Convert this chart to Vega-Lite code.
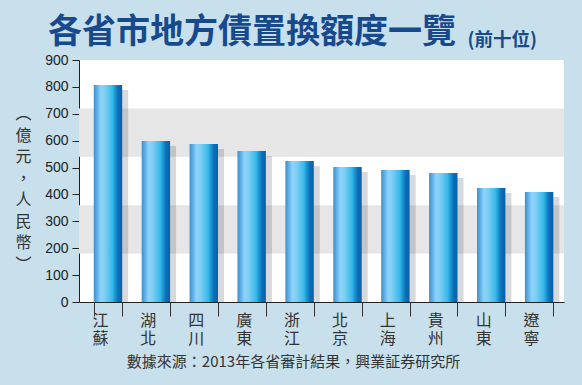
{
  "$schema": "https://vega.github.io/schema/vega-lite/v6.json",
  "width": 485,
  "height": 242,
  "autosize": {"type": "none"},
  "padding": {"left": 79, "top": 60, "right": 18, "bottom": 83},
  "background": "#c8e0ec",
  "config": {"view": {"fill": "white", "stroke": null}},
  "title": {
    "text": "各省市地方債置換額度一覽",
    "anchor": "start",
    "frame": "group",
    "dx": -31,
    "offset": -20,
    "font": "Noto Sans CJK TC",
    "fontSize": 34,
    "fontWeight": "bold",
    "color": "#174a8c"
  },
  "resolve": {"axis": {"y": "independent"}},
  "data": {
    "values": [
      {"p": "江蘇", "v": 807},
      {"p": "湖北", "v": 599},
      {"p": "四川", "v": 588},
      {"p": "廣東", "v": 562},
      {"p": "浙江", "v": 524},
      {"p": "北京", "v": 502},
      {"p": "上海", "v": 491},
      {"p": "貴州", "v": 480},
      {"p": "山東", "v": 424},
      {"p": "遼寧", "v": 409}
    ]
  },
  "layer": [
    {
      "data": {"values": [{"lo": 180, "hi": 360}, {"lo": 540, "hi": 720}]},
      "mark": {"type": "rect", "color": "#e6e6e6"},
      "encoding": {
        "y": {
          "field": "lo",
          "type": "quantitative",
          "scale": {"domain": [0, 900], "nice": false},
          "axis": {
            "orient": "right",
            "title": "(前十位)",
            "labels": false,
            "ticks": false,
            "domain": false,
            "grid": false,
            "titleAngle": 0,
            "titleX": -97,
            "titleY": -15,
            "titleAlign": "left",
            "titleBaseline": "alphabetic",
            "titleFont": "Noto Sans CJK TC",
            "titleFontSize": 18.5,
            "titleFontWeight": "bold",
            "titleColor": "#174a8c"
          }
        },
        "y2": {"field": "hi"}
      }
    },
    {
      "mark": {"type": "bar", "color": "#101020", "opacity": 0.16, "xOffset": 6, "yOffset": 5, "clip": true},
      "encoding": {
        "x": {"field": "p", "type": "nominal", "sort": null},
        "y": {"field": "v", "type": "quantitative", "axis": null}
      }
    },
    {
      "mark": {
        "type": "bar",
        "color": {
          "gradient": "linear",
          "x1": 0, "x2": 1, "y1": 0, "y2": 0,
          "stops": [
            {"offset": 0, "color": "#3590d6"},
            {"offset": 0.25, "color": "#8fd4f8"},
            {"offset": 0.4, "color": "#7ccdf4"},
            {"offset": 0.65, "color": "#35baeb"},
            {"offset": 0.85, "color": "#0a72ba"},
            {"offset": 1, "color": "#0b5ea6"}
          ]
        }
      },
      "encoding": {
        "x": {
          "field": "p",
          "type": "nominal",
          "sort": null,
          "scale": {"paddingInner": 0.407, "paddingOuter": 0.266, "align": 0.58},
          "axis": {
            "title": "數據來源：2013年各省審計結果，興業証券研究所",
            "labelAngle": 0,
            "labelExpr": "[substring(datum.label,0,1), substring(datum.label,1,2)]",
            "labelFont": "Noto Sans CJK TC",
            "labelFontSize": 16,
            "labelLineHeight": 18,
            "labelColor": "#333333",
            "labelPadding": -4,
            "labelBaseline": "top",
            "tickBand": "extent",
            "tickSize": 14,
            "tickColor": "#333333",
            "domainColor": "#222222",
            "titleFont": "Noto Sans CJK TC",
            "titleFontSize": 15,
            "titleFontWeight": "normal",
            "titleColor": "#333333",
            "titleX": 214,
            "titleY": 59,
            "titleAlign": "center",
            "titleBaseline": "middle"
          }
        },
        "y": {
          "field": "v",
          "type": "quantitative",
          "scale": {"domain": [0, 900], "nice": false},
          "axis": {
            "orient": "left",
            "title": ["︵", "億", "元", "，", "人", "民", "幣", "︶"],
            "titleAngle": 0,
            "titleX": -56,
            "titleY": 53.5,
            "titleAlign": "center",
            "titleBaseline": "middle",
            "titleFont": "Noto Sans CJK TC",
            "titleFontSize": 16,
            "titleFontWeight": "normal",
            "titleLineHeight": 21.5,
            "titleColor": "#333333",
            "labelFont": "Liberation Sans",
            "labelFontSize": 14,
            "labelColor": "#222222",
            "labelPadding": 4,
            "labelOverlap": false,
            "labelFlush": false,
            "tickSize": 7,
            "tickColor": "#222222",
            "domainColor": "#222222",
            "grid": false,
            "values": [0, 100, 200, 300, 400, 500, 600, 700, 800, 900]
          }
        }
      }
    }
  ]
}
